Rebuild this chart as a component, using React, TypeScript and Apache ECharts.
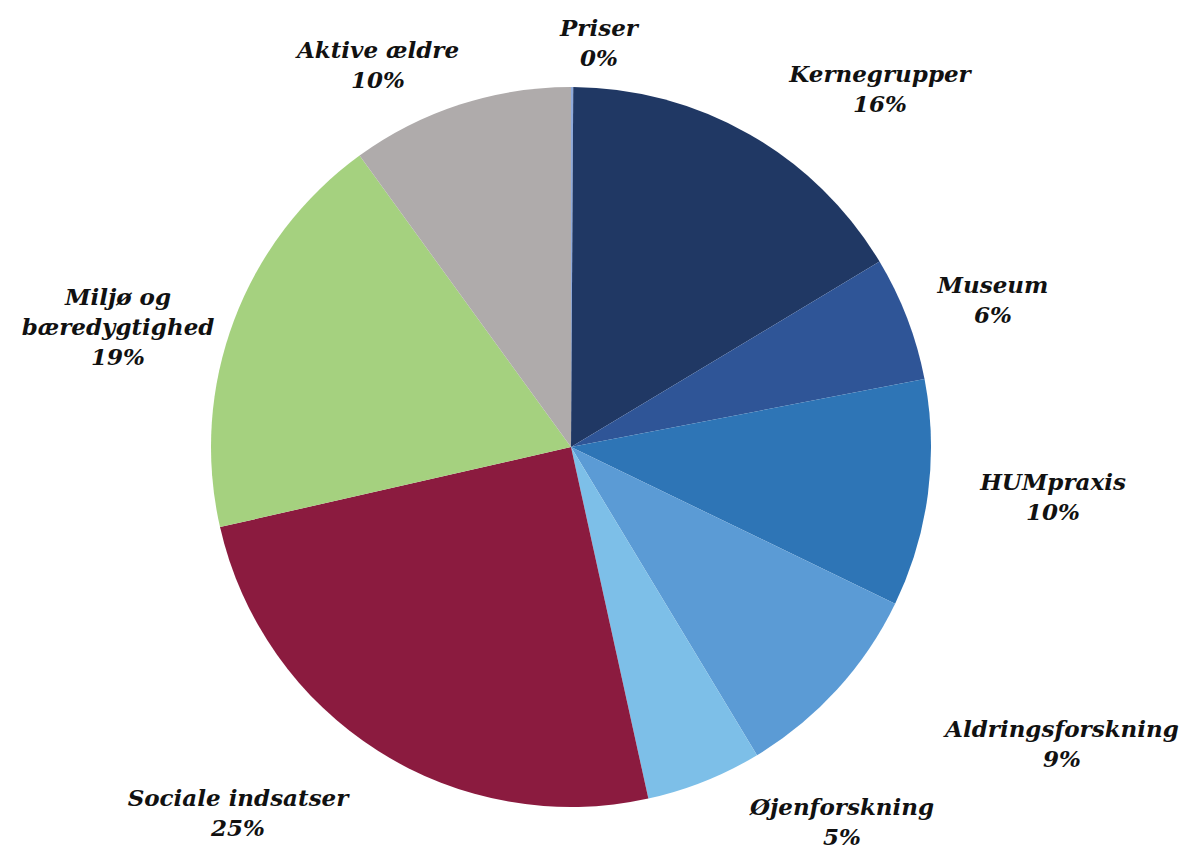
import React, { useEffect, useRef } from "react";
import * as echarts from "echarts";

const categories = [
  "Priser",
  "Kernegrupper",
  "Museum",
  "HUMpraxis",
  "Aldringsforskning",
  "Øjenforskning",
  "Sociale indsatser",
  "Miljø og\nbæredygtighed",
  "Aktive ældre",
];
const values = [0.1, 16.3, 5.6, 10.2, 9.2, 5.2, 24.9, 18.6, 10.0];
const colors = [
  "#8FAADC",
  "#203864",
  "#2F5597",
  "#2E75B6",
  "#5B9BD5",
  "#7DBFE8",
  "#8B1B3F",
  "#A5D17F",
  "#AFABAB",
];
// label anchor positions (centre of text block), px
const labelPos: [number, number][] = [
  [599, 42],
  [880, 88],
  [993, 299],
  [1053, 496],
  [1062, 743],
  [842, 821],
  [238, 812],
  [118, 326],
  [378, 64],
];

export default function App() {
  const ref = useRef<HTMLDivElement>(null);
  useEffect(() => {
    if (!ref.current) return;
    const chart = echarts.init(ref.current, null, { renderer: "svg" });
    chart.setOption({
      animation: false,
      backgroundColor: "#ffffff",
      series: [
        {
          type: "pie",
          center: [571, 447],
          radius: [0, 360],
          startAngle: 90,
          clockwise: true,
          avoidLabelOverlap: false,
          data: categories.map((name, i) => ({
            name,
            value: values[i],
            itemStyle: { color: colors[i] },
          })),
          itemStyle: { borderWidth: 0 },
          label: {
            show: true,
            position: "outside",
            fontFamily: "DejaVu Serif",
            fontStyle: "italic",
            fontWeight: "bold",
            fontSize: 23,
            lineHeight: 30,
            color: "#111111",
            align: "center",
            formatter: (p: any) => `${p.name}\n${Math.round(p.percent)}%`,
          },
          labelLine: { show: false },
          labelLayout: (p: any) => {
            const pos = labelPos[p.dataIndex];
            return {
              x: pos[0],
              y: pos[1],
              align: "center",
              verticalAlign: "middle",
            };
          },
        },
      ],
    });
    return () => chart.dispose();
  }, []);
  return (
    <div
      ref={ref}
      style={{ position: "fixed", left: 0, top: 0, width: 1192, height: 848 }}
    />
  );
}
